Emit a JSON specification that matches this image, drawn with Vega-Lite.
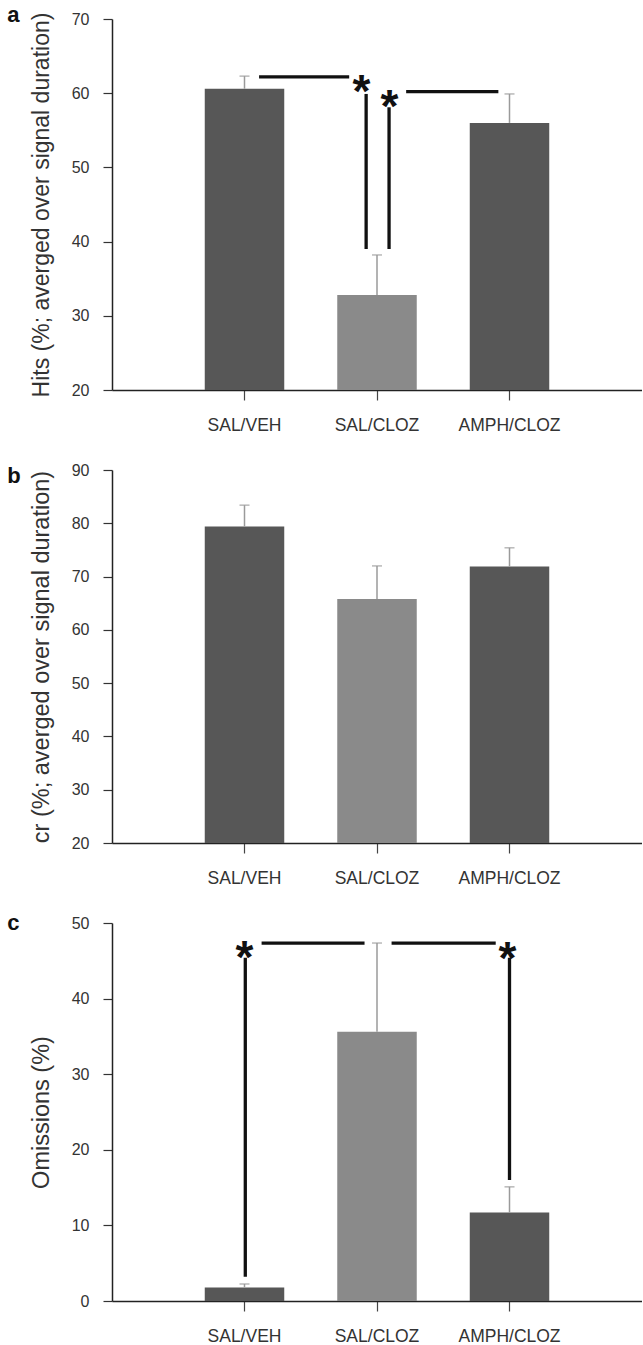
{
  "$schema": "https://vega.github.io/schema/vega-lite/v6.json",
  "background": "white",
  "padding": {"left": 7, "top": 3, "right": 0, "bottom": 0},
  "config": {
    "font": "Liberation Sans",
    "view": {"stroke": null},
    "axis": {
      "grid": false,
      "domainColor": "#222",
      "domainWidth": 1.5,
      "tickColor": "#333",
      "tickWidth": 1.2,
      "labelFont": "Liberation Sans",
      "labelColor": "#333",
      "titleFont": "Liberation Sans",
      "titleColor": "#333",
      "titleFontWeight": "normal",
      "labelFlush": false,
      "labelOverlap": false
    }
  },
  "datasets": {
    "hits": [
      {"group": "SAL/VEH", "mean": 60.6, "err_top": 62.3},
      {"group": "SAL/CLOZ", "mean": 32.8, "err_top": 38.2},
      {"group": "AMPH/CLOZ", "mean": 56.0, "err_top": 59.9}
    ],
    "cr": [
      {"group": "SAL/VEH", "mean": 79.4, "err_top": 83.4},
      {"group": "SAL/CLOZ", "mean": 65.8, "err_top": 72.0},
      {"group": "AMPH/CLOZ", "mean": 71.9, "err_top": 75.4}
    ],
    "omissions": [
      {"group": "SAL/VEH", "mean": 1.8, "err_top": 2.25},
      {"group": "SAL/CLOZ", "mean": 35.6, "err_top": 47.35},
      {"group": "AMPH/CLOZ", "mean": 11.7, "err_top": 15.1}
    ],
    "annA": [
      {"kind": "line", "x": 1.11, "x2": 1.79, "y": 62.2, "y2": 62.2},
      {"kind": "line", "x": 1.918, "x2": 1.918, "y": 59.9, "y2": 39.0},
      {"kind": "line", "x": 2.091, "x2": 2.091, "y": 58.1, "y2": 39.0},
      {"kind": "line", "x": 2.22, "x2": 2.916, "y": 60.2, "y2": 60.2},
      {"kind": "star", "x": 1.883, "y": 61.6, "label": "*"},
      {"kind": "star", "x": 2.094, "y": 59.65, "label": "*"},
      {"kind": "letter", "x": -0.79, "y": 69.64, "label": "a"}
    ],
    "annB": [
      {"kind": "letter", "x": -0.79, "y": 87.56, "label": "b"}
    ],
    "annC": [
      {"kind": "line", "x": 1.129, "x2": 1.906, "y": 47.35, "y2": 47.35},
      {"kind": "line", "x": 2.11, "x2": 2.896, "y": 47.35, "y2": 47.35},
      {"kind": "line", "x": 1.006, "x2": 1.006, "y": 45.4, "y2": 3.2},
      {"kind": "line", "x": 3.0, "x2": 3.0, "y": 45.4, "y2": 16.0},
      {"kind": "star", "x": 1.0, "y": 46.8, "label": "*"},
      {"kind": "star", "x": 2.985, "y": 46.7, "label": "*"},
      {"kind": "letter", "x": -0.79, "y": 49.07, "label": "c"}
    ]
  },
  "spacing": 80,
  "bounds": "flush",
  "vconcat": [
    {
      "width": 530,
      "height": 371,
      "resolve": {"scale": {"x": "independent"}},
      "layer": [
        {
          "data": {"name": "hits"},
          "encoding": {
            "x": {"field": "group", "type": "nominal", "sort": null,
              "scale": {"paddingInner": 0.4, "paddingOuter": 0.7},
              "axis": {"title": null, "labelAngle": 0, "labelFontSize": 17.5, "tickSize": 10, "labelPadding": 16, "tickColor": "#444"}}
          },
          "layer": [
            {
              "mark": {"type": "bar"},
              "encoding": {
                "y": {"field": "mean", "type": "quantitative",
                  "scale": {"domain": [20, 70], "nice": false, "zero": false},
                  "axis": {"values": [20, 30, 40, 50, 60, 70], "title": "Hits (%; averged over signal duration)", "titleFontSize": 23, "titlePadding": 18, "labelFontSize": 16, "tickSize": 9, "labelPadding": 14}},
                "y2": {"datum": 20},
                "color": {"field": "group", "type": "nominal",
                  "scale": {"domain": ["SAL/VEH", "SAL/CLOZ", "AMPH/CLOZ"], "range": ["#575757", "#8a8a8a", "#575757"]},
                  "legend": null}
              }
            },
            {
              "mark": {"type": "rule", "color": "#9a9a9a", "strokeWidth": 1.5},
              "encoding": {
                "y": {"field": "mean", "type": "quantitative"},
                "y2": {"field": "err_top"}
              }
            },
            {
              "mark": {"type": "tick", "color": "#9a9a9a", "thickness": 1.5, "size": 10, "orient": "horizontal"},
              "encoding": {
                "y": {"field": "err_top", "type": "quantitative"}
              }
            }
          ]
        },
        {
          "data": {"name": "annA"},
          "layer": [
            {
              "transform": [{"filter": "datum.kind === 'line'"}],
              "mark": {"type": "rule", "color": "#111", "strokeWidth": 3.3},
              "encoding": {
                "x": {"field": "x", "type": "quantitative", "scale": {"domain": [0, 4], "nice": false, "zero": false}, "axis": null},
                "x2": {"field": "x2"},
                "y": {"field": "y", "type": "quantitative"},
                "y2": {"field": "y2"}
              }
            },
            {
              "transform": [{"filter": "datum.kind === 'star'"}],
              "mark": {"type": "text", "font": "Liberation Sans", "fontSize": 46, "fontWeight": "bold", "align": "center", "baseline": "middle", "dy": 12, "color": "#111"},
              "encoding": {
                "x": {"field": "x", "type": "quantitative"},
                "y": {"field": "y", "type": "quantitative"},
                "text": {"field": "label"}
              }
            },
            {
              "transform": [{"filter": "datum.kind === 'letter'"}],
              "mark": {"type": "text", "font": "Liberation Sans", "fontSize": 22, "fontWeight": "bold", "align": "left", "baseline": "alphabetic", "color": "#111"},
              "encoding": {
                "x": {"field": "x", "type": "quantitative"},
                "y": {"field": "y", "type": "quantitative"},
                "text": {"field": "label"}
              }
            }
          ]
        }
      ]
    },
    {
      "width": 530,
      "height": 373,
      "resolve": {"scale": {"x": "independent"}},
      "layer": [
        {
          "data": {"name": "cr"},
          "encoding": {
            "x": {"field": "group", "type": "nominal", "sort": null,
              "scale": {"paddingInner": 0.4, "paddingOuter": 0.7},
              "axis": {"title": null, "labelAngle": 0, "labelFontSize": 17.5, "tickSize": 10, "labelPadding": 16, "tickColor": "#444"}}
          },
          "layer": [
            {
              "mark": {"type": "bar"},
              "encoding": {
                "y": {"field": "mean", "type": "quantitative",
                  "scale": {"domain": [20, 90], "nice": false, "zero": false},
                  "axis": {"values": [20, 30, 40, 50, 60, 70, 80, 90], "title": "cr (%; averged over signal duration)", "titleFontSize": 23.5, "titlePadding": 18, "labelFontSize": 16, "tickSize": 9, "labelPadding": 14}},
                "y2": {"datum": 20},
                "color": {"field": "group", "type": "nominal",
                  "scale": {"domain": ["SAL/VEH", "SAL/CLOZ", "AMPH/CLOZ"], "range": ["#575757", "#8a8a8a", "#575757"]},
                  "legend": null}
              }
            },
            {
              "mark": {"type": "rule", "color": "#9a9a9a", "strokeWidth": 1.5},
              "encoding": {
                "y": {"field": "mean", "type": "quantitative"},
                "y2": {"field": "err_top"}
              }
            },
            {
              "mark": {"type": "tick", "color": "#9a9a9a", "thickness": 1.5, "size": 10, "orient": "horizontal"},
              "encoding": {
                "y": {"field": "err_top", "type": "quantitative"}
              }
            }
          ]
        },
        {
          "data": {"name": "annB"},
          "layer": [
            {
              "mark": {"type": "text", "font": "Liberation Sans", "fontSize": 22, "fontWeight": "bold", "align": "left", "baseline": "alphabetic", "color": "#111"},
              "encoding": {
                "x": {"field": "x", "type": "quantitative", "scale": {"domain": [0, 4], "nice": false, "zero": false}, "axis": null},
                "y": {"field": "y", "type": "quantitative"},
                "text": {"field": "label"}
              }
            }
          ]
        }
      ]
    },
    {
      "width": 530,
      "height": 378,
      "resolve": {"scale": {"x": "independent"}},
      "layer": [
        {
          "data": {"name": "omissions"},
          "encoding": {
            "x": {"field": "group", "type": "nominal", "sort": null,
              "scale": {"paddingInner": 0.4, "paddingOuter": 0.7},
              "axis": {"title": null, "labelAngle": 0, "labelFontSize": 17.5, "tickSize": 10, "labelPadding": 16, "tickColor": "#444"}}
          },
          "layer": [
            {
              "mark": {"type": "bar"},
              "encoding": {
                "y": {"field": "mean", "type": "quantitative",
                  "scale": {"domain": [0, 50], "nice": false},
                  "axis": {"values": [0, 10, 20, 30, 40, 50], "title": "Omissions (%)", "titleFontSize": 23.5, "titlePadding": 18, "labelFontSize": 16, "tickSize": 9, "labelPadding": 14}},
                "y2": {"datum": 0},
                "color": {"field": "group", "type": "nominal",
                  "scale": {"domain": ["SAL/VEH", "SAL/CLOZ", "AMPH/CLOZ"], "range": ["#575757", "#8a8a8a", "#575757"]},
                  "legend": null}
              }
            },
            {
              "mark": {"type": "rule", "color": "#9a9a9a", "strokeWidth": 1.5},
              "encoding": {
                "y": {"field": "mean", "type": "quantitative"},
                "y2": {"field": "err_top"}
              }
            },
            {
              "mark": {"type": "tick", "color": "#9a9a9a", "thickness": 1.5, "size": 10, "orient": "horizontal"},
              "encoding": {
                "y": {"field": "err_top", "type": "quantitative"}
              }
            }
          ]
        },
        {
          "data": {"name": "annC"},
          "layer": [
            {
              "transform": [{"filter": "datum.kind === 'line'"}],
              "mark": {"type": "rule", "color": "#111", "strokeWidth": 3.3},
              "encoding": {
                "x": {"field": "x", "type": "quantitative", "scale": {"domain": [0, 4], "nice": false, "zero": false}, "axis": null},
                "x2": {"field": "x2"},
                "y": {"field": "y", "type": "quantitative"},
                "y2": {"field": "y2"}
              }
            },
            {
              "transform": [{"filter": "datum.kind === 'star'"}],
              "mark": {"type": "text", "font": "Liberation Sans", "fontSize": 46, "fontWeight": "bold", "align": "center", "baseline": "middle", "dy": 12, "color": "#111"},
              "encoding": {
                "x": {"field": "x", "type": "quantitative"},
                "y": {"field": "y", "type": "quantitative"},
                "text": {"field": "label"}
              }
            },
            {
              "transform": [{"filter": "datum.kind === 'letter'"}],
              "mark": {"type": "text", "font": "Liberation Sans", "fontSize": 22, "fontWeight": "bold", "align": "left", "baseline": "alphabetic", "color": "#111"},
              "encoding": {
                "x": {"field": "x", "type": "quantitative"},
                "y": {"field": "y", "type": "quantitative"},
                "text": {"field": "label"}
              }
            }
          ]
        }
      ]
    }
  ]
}
